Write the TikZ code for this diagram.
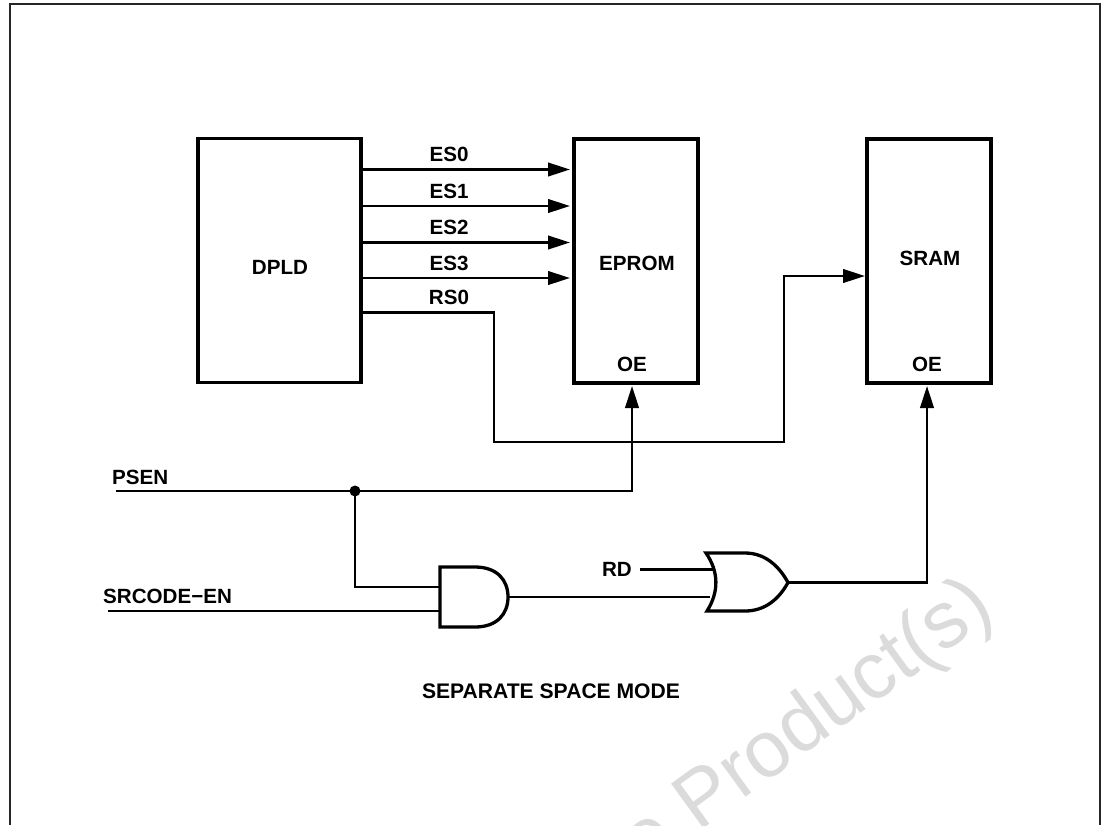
\documentclass[tikz,border=0pt]{standalone}
\usepackage{fontspec}
\setmainfont{Liberation Sans}
\usetikzlibrary{arrows.meta}
\tikzset{
  x=1pt,y=-1pt,
  blockbox/.style={draw=black,line width=3.4pt,fill=white,minimum width=#1,minimum height=244pt,inner sep=0pt,outer sep=0pt,anchor=north west},
  gateshape/.style={draw=black,line width=3.3pt,fill=white,line join=miter},
  gatebox/.style={inner sep=0pt,outer sep=0pt,minimum width=#1,minimum height=60pt},
  wire/.style={draw=black,line width=2.5pt},
  arrowwire/.style={wire,-{Triangle[length=22pt,width=13.5pt]}},
  lbl/.style={font=\fontsize{20.6}{24}\selectfont\bfseries,inner sep=0pt,text=black},
  titlelbl/.style={font=\fontsize{21.1}{24}\selectfont\bfseries,inner sep=0pt,text=black},
  frameline/.style={draw=black!85,line width=2pt},
  wmark/.style={font=\fontsize{80}{90}\selectfont,text=black!14,inner sep=0pt,rotate=36,anchor=base east}
}
\begin{document}
\begin{tikzpicture}
\useasboundingbox (0,0) rectangle (1107,825);
\clip (0,0) rectangle (1107,825);
% watermark
\node[wmark] (wm) at (997,615) {e Product(s)};
% frame
\coordinate (fbl) at (10,825);
\coordinate (ftl) at (10,4);
\coordinate (ftr) at (1100,4);
\coordinate (fbr) at (1100,825);
\draw[frameline] (fbl) -- (ftl) -- (ftr) -- (fbr);
% blocks
\node[blockbox=163pt] (dpld) at (198,138.5) {};
\node[blockbox=124pt] (eprom) at (574,139) {};
\node[blockbox=124pt] (sram) at (867,139) {};
\node[lbl] (dpldt) at (280,267) {DPLD};
\node[lbl] (epromt) at (637,263) {EPROM};
\node[lbl] (sramt) at (930,258) {SRAM};
\node[lbl] (oe1) at (632,364) {OE};
\node[lbl] (oe2) at (927,364) {OE};
% pins on the blocks
\coordinate (d0) at (361,169.5); \coordinate (e0) at (570,169.5);
\coordinate (d1) at (361,206); \coordinate (e1) at (570,206);
\coordinate (d2) at (361,242.5); \coordinate (e2) at (570,242.5);
\coordinate (d3) at (361,278); \coordinate (e3) at (570,278);
\coordinate (d4) at (361,312.5);
\coordinate (s0) at (865,276);
\coordinate (eoe) at (632,386);
\coordinate (soe) at (927,386);
% arrows
\draw[arrowwire] (d0) -- (e0);
\draw[arrowwire] (d1) -- (e1);
\draw[arrowwire] (d2) -- (e2);
\draw[arrowwire] (d3) -- (e3);
\node[lbl] (es0) at (449,154) {ES0};
\node[lbl] (es1) at (449,191) {ES1};
\node[lbl] (es2) at (449,227) {ES2};
\node[lbl] (es3) at (449,263) {ES3};
\node[lbl] (rs0) at (449,297) {RS0};
\draw[arrowwire] (d4) -- (494,312.5) -- (494,442) -- (784,442) -- (784,276) -- (s0);
% PSEN
\coordinate (psen) at (116,491);
\node[lbl,anchor=west] (psent) at (112,477) {PSEN};
\coordinate (jn) at (355,491);
\draw[arrowwire] (psen) -- (632,491) -- (eoe);
\fill[black] (jn) circle (5.5pt);
% AND gate
\node[gatebox=68pt] (andg) at (474,597) {};
\draw[gateshape] (andg.north west) -- (475,567) .. controls (497,567) and (508,580) .. (andg.east) .. controls (508,614) and (497,627) .. (475,627) -- (andg.south west) -- cycle;
\coordinate (a1) at (440,587);
\coordinate (a2) at (440,611);
\draw[wire] (jn) -- (355,587) -- (a1);
\coordinate (src) at (108,611);
\node[lbl,anchor=west] (srct) at (103,596) {SRCODE−EN};
\draw[wire] (src) -- (a2);
% OR gate
\node[gatebox=82pt] (org) at (747,582.5) {};
\draw[gateshape] (706,553) -- (745,553) .. controls (765,553) and (779,566) .. (788,582.5) .. controls (779,599) and (765,611) .. (745,611) -- (707,611) .. controls (719,592) and (719,572) .. (706,553) -- cycle;
\coordinate (o1) at (713,569.5);
\coordinate (o2) at (710,597);
\coordinate (rdp) at (640,569.5);
\node[lbl,anchor=east] (rdt) at (632,569) {RD};
\draw[wire] (rdp) -- (o1);
\draw[wire] (andg.east) -- (o2);
\draw[arrowwire] (org.east) -- (927,582.5) -- (soe);
\node[titlelbl] (title) at (551,691) {SEPARATE SPACE MODE};
\end{tikzpicture}
\end{document}
